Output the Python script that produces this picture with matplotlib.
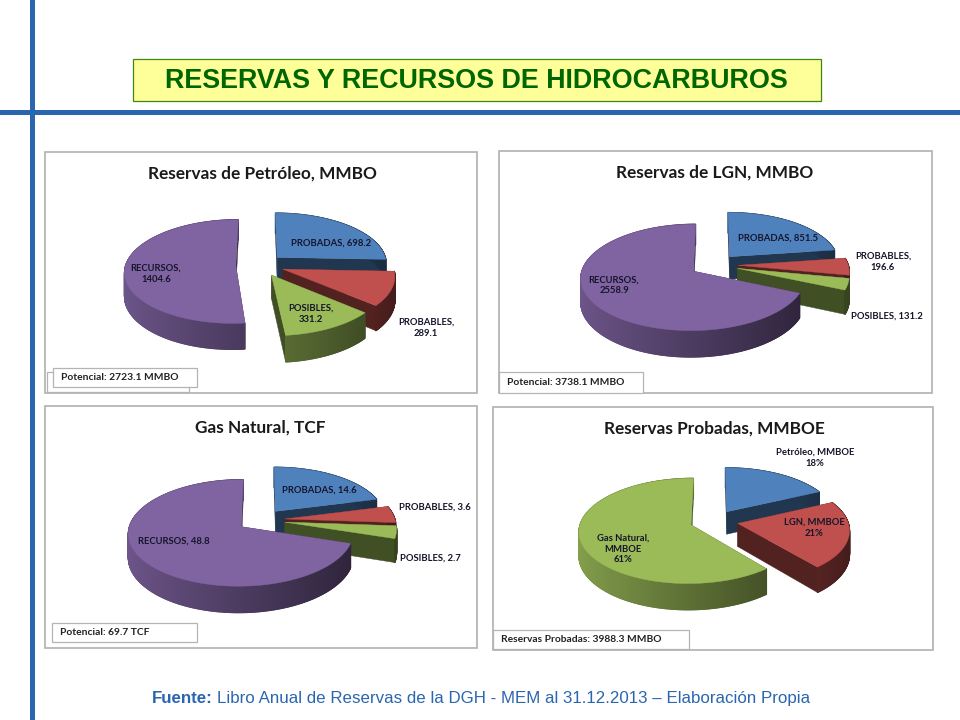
import numpy as np
import matplotlib
matplotlib.use('Agg')
import matplotlib.pyplot as plt
from matplotlib.collections import PolyCollection
from matplotlib.patches import Rectangle
from matplotlib.colors import to_rgb

# data
cats_reservas = ['PROBADAS', 'PROBABLES', 'POSIBLES', 'RECURSOS']
petroleo = [698.2, 289.1, 331.2, 1404.6]
lgn = [851.5, 196.6, 131.2, 2558.9]
gas = [14.6, 3.6, 2.7, 48.8]
cats_probadas = ['Petróleo, MMBOE', 'LGN, MMBOE', 'Gas Natural,\nMMBOE']
probadas_pct = [18, 21, 61]

BLUE, RED, GREEN, PURPLE = '#4f81bd', '#c0504d', '#9bbb59', '#8064a2'
LINE = '#2a66b0'

fig = plt.figure(figsize=(9.6, 7.2), dpi=100)
ax = fig.add_axes([0, 0, 1, 1])
ax.set_xlim(0, 960)
ax.set_ylim(720, 0)
ax.axis('off')

LATO = ['Lato', 'DejaVu Sans']
ARIAL = ['Liberation Sans', 'DejaVu Sans']


def shade(color, f):
    return tuple(c * f for c in to_rgb(color))


def project(u, v, c, rx, ry, k, depth=0.0):
    w = 1 / (1 - k * v)
    return c[0] + rx * u * w, c[1] + ry * v * w + depth * w


def draw_slice(a0, a1, color, c, rx, ry, k, depth, expl):
    # angles clockwise from 12 o'clock, exploded along the mid angle
    mid = (a0 + a1) / 2
    ou, ov = expl * np.sin(mid), -expl * np.cos(mid)
    th = np.linspace(a0, a1, max(int((a1 - a0) * 120), 6))
    u, v = np.sin(th), -np.cos(th)

    def pts(uu, vv, d=0.0):
        return np.column_stack(project(ou + np.asarray(uu), ov + np.asarray(vv), c, rx, ry, k, d))

    # cut faces first, rim next, top last so hidden parts get covered
    dark = shade(color, 0.42)
    for i in (0, -1):
        top = pts([0, u[i]], [0, v[i]])
        bot = pts([0, u[i]], [0, v[i]], depth)
        ax.fill(np.r_[top[:, 0], bot[::-1, 0]], np.r_[top[:, 1], bot[::-1, 1]],
                color=dark, lw=0.3)
    top = pts(u, v)
    bot = pts(u, v, depth)
    quads, cols = [], []
    for i in range(len(th) - 1):
        quads.append([top[i], top[i + 1], bot[i + 1], bot[i]])
        t = (u[i] + 1) / 2
        cols.append(shade(color, 0.85 - 0.5 * t))
    ax.add_collection(PolyCollection(quads, facecolors=cols, edgecolors='face', linewidths=0.9))
    face = pts(np.r_[0, u], np.r_[0, v])
    ax.fill(face[:, 0], face[:, 1], color=color, lw=0.3)


def draw_pie(values, colors, order, c, rx=110, ry=51, k=0.115, depth=23, expl=0.22):
    vals = np.asarray(values, dtype=float)
    edges = np.r_[0, np.cumsum(vals)] / vals.sum() * 2 * np.pi
    for i in order:
        draw_slice(edges[i], edges[i + 1], colors[i], c, rx, ry, k, depth, expl)


def panel(x0, y0, x1, y1, title, title_x, note, note_box, back_box=None):
    ax.add_patch(Rectangle((x0, y0), x1 - x0, y1 - y0, fc='white', ec='#b0b0b0', lw=1.2))
    ax.text(title_x, y0 + 22, title, family=LATO, fontsize=12.4, weight='bold',
            color='#1a1a1a', ha='center', va='center')
    for box in (back_box, note_box):
        if box is not None:
            ax.add_patch(Rectangle((box[0], box[1]), box[2] - box[0], box[3] - box[1],
                                   fc='white', ec='#b4b4b4', lw=0.9, zorder=5))
    ax.text(note_box[0] + 8, (note_box[1] + note_box[3]) / 2, note, family=LATO, fontsize=7.4,
            weight='bold', color='#222222', ha='left', va='center', zorder=6)


def labels(texts, positions):
    for txt, (x, y) in zip(texts, positions):
        ax.text(x, y, txt, family=LATO, fontsize=6.8, weight='bold', color='#15152a',
                ha='center', va='center', linespacing=1.25, zorder=4)


# page furniture
ax.add_patch(Rectangle((0, 110), 960, 5, fc=LINE, ec='none'))
ax.add_patch(Rectangle((30, 0), 5, 720, fc=LINE, ec='none'))
ax.add_patch(Rectangle((132.5, 58.5), 688, 42, fc='#ffff99', ec='#3a8a10', lw=0.9))
ax.text(476.5, 81, 'RESERVAS Y RECURSOS DE HIDROCARBUROS', family=ARIAL, fontsize=19.4,
        weight='bold', color='#006600', ha='center', va='center')

colors4 = [BLUE, RED, GREEN, PURPLE]

# Petroleo
panel(45, 152, 477, 393, 'Reservas de Petróleo, MMBO', 262, 'Potencial: 2723.1 MMBO',
      (53, 368, 197, 387), back_box=(47, 372, 189, 392))
draw_pie(petroleo, colors4, [0, 3, 1, 2], (260, 265))
labels(['%s, %s' % (cats_reservas[0], petroleo[0]),
        '%s,\n%s' % (cats_reservas[1], petroleo[1]),
        '%s,\n%s' % (cats_reservas[2], petroleo[2]),
        '%s,\n%s' % (cats_reservas[3], petroleo[3])],
       [(331, 243), (426, 328), (311, 314), (156, 274)])

# LGN
panel(499, 151, 932, 393, 'Reservas de LGN, MMBO', 715, 'Potencial: 3738.1 MMBO',
      (499, 372, 643, 393))
draw_pie(lgn, colors4, [0, 1, 2, 3], (714, 265))
labels(['%s, %s' % (cats_reservas[0], lgn[0]),
        '%s,\n%s' % (cats_reservas[1], lgn[1]),
        '%s, %s' % (cats_reservas[2], lgn[2]),
        '%s,\n%s' % (cats_reservas[3], lgn[3])],
       [(778, 238), (883, 262), (887, 316), (614, 285)])

# Gas natural
panel(45, 406, 477, 648, 'Gas Natural, TCF', 260, 'Potencial: 69.7 TCF',
      (52, 623, 197, 642))
draw_pie(gas, colors4, [0, 1, 2, 3], (261, 520))
labels(['%s, %s' % (c_, v_) for c_, v_ in zip(cats_reservas, gas)],
       [(319, 490), (435, 507), (430, 558), (174, 541)])

# Reservas probadas
panel(493, 407, 933, 650, 'Reservas Probadas, MMBOE', 714, 'Reservas Probadas: 3988.3 MMBO',
      (493, 630, 689, 649))
draw_pie(probadas_pct, [BLUE, RED, GREEN], [0, 1, 2], (714, 521))
labels(['%s\n%d%%' % (c_, v_) for c_, v_ in zip(cats_probadas, probadas_pct)],
       [(815, 458), (814, 528), (623, 549)])

# source line, same baseline for both runs
ax.text(152, 703, 'Fuente:', family=ARIAL, fontsize=12.2, weight='bold', color=LINE,
        ha='left', va='baseline')
ax.text(217, 703, 'Libro Anual de Reservas de la DGH - MEM al 31.12.2013 – Elaboración Propia',
        family=ARIAL, fontsize=12.2, color=LINE, ha='left', va='baseline')

fig.savefig('out.png', dpi=100)
